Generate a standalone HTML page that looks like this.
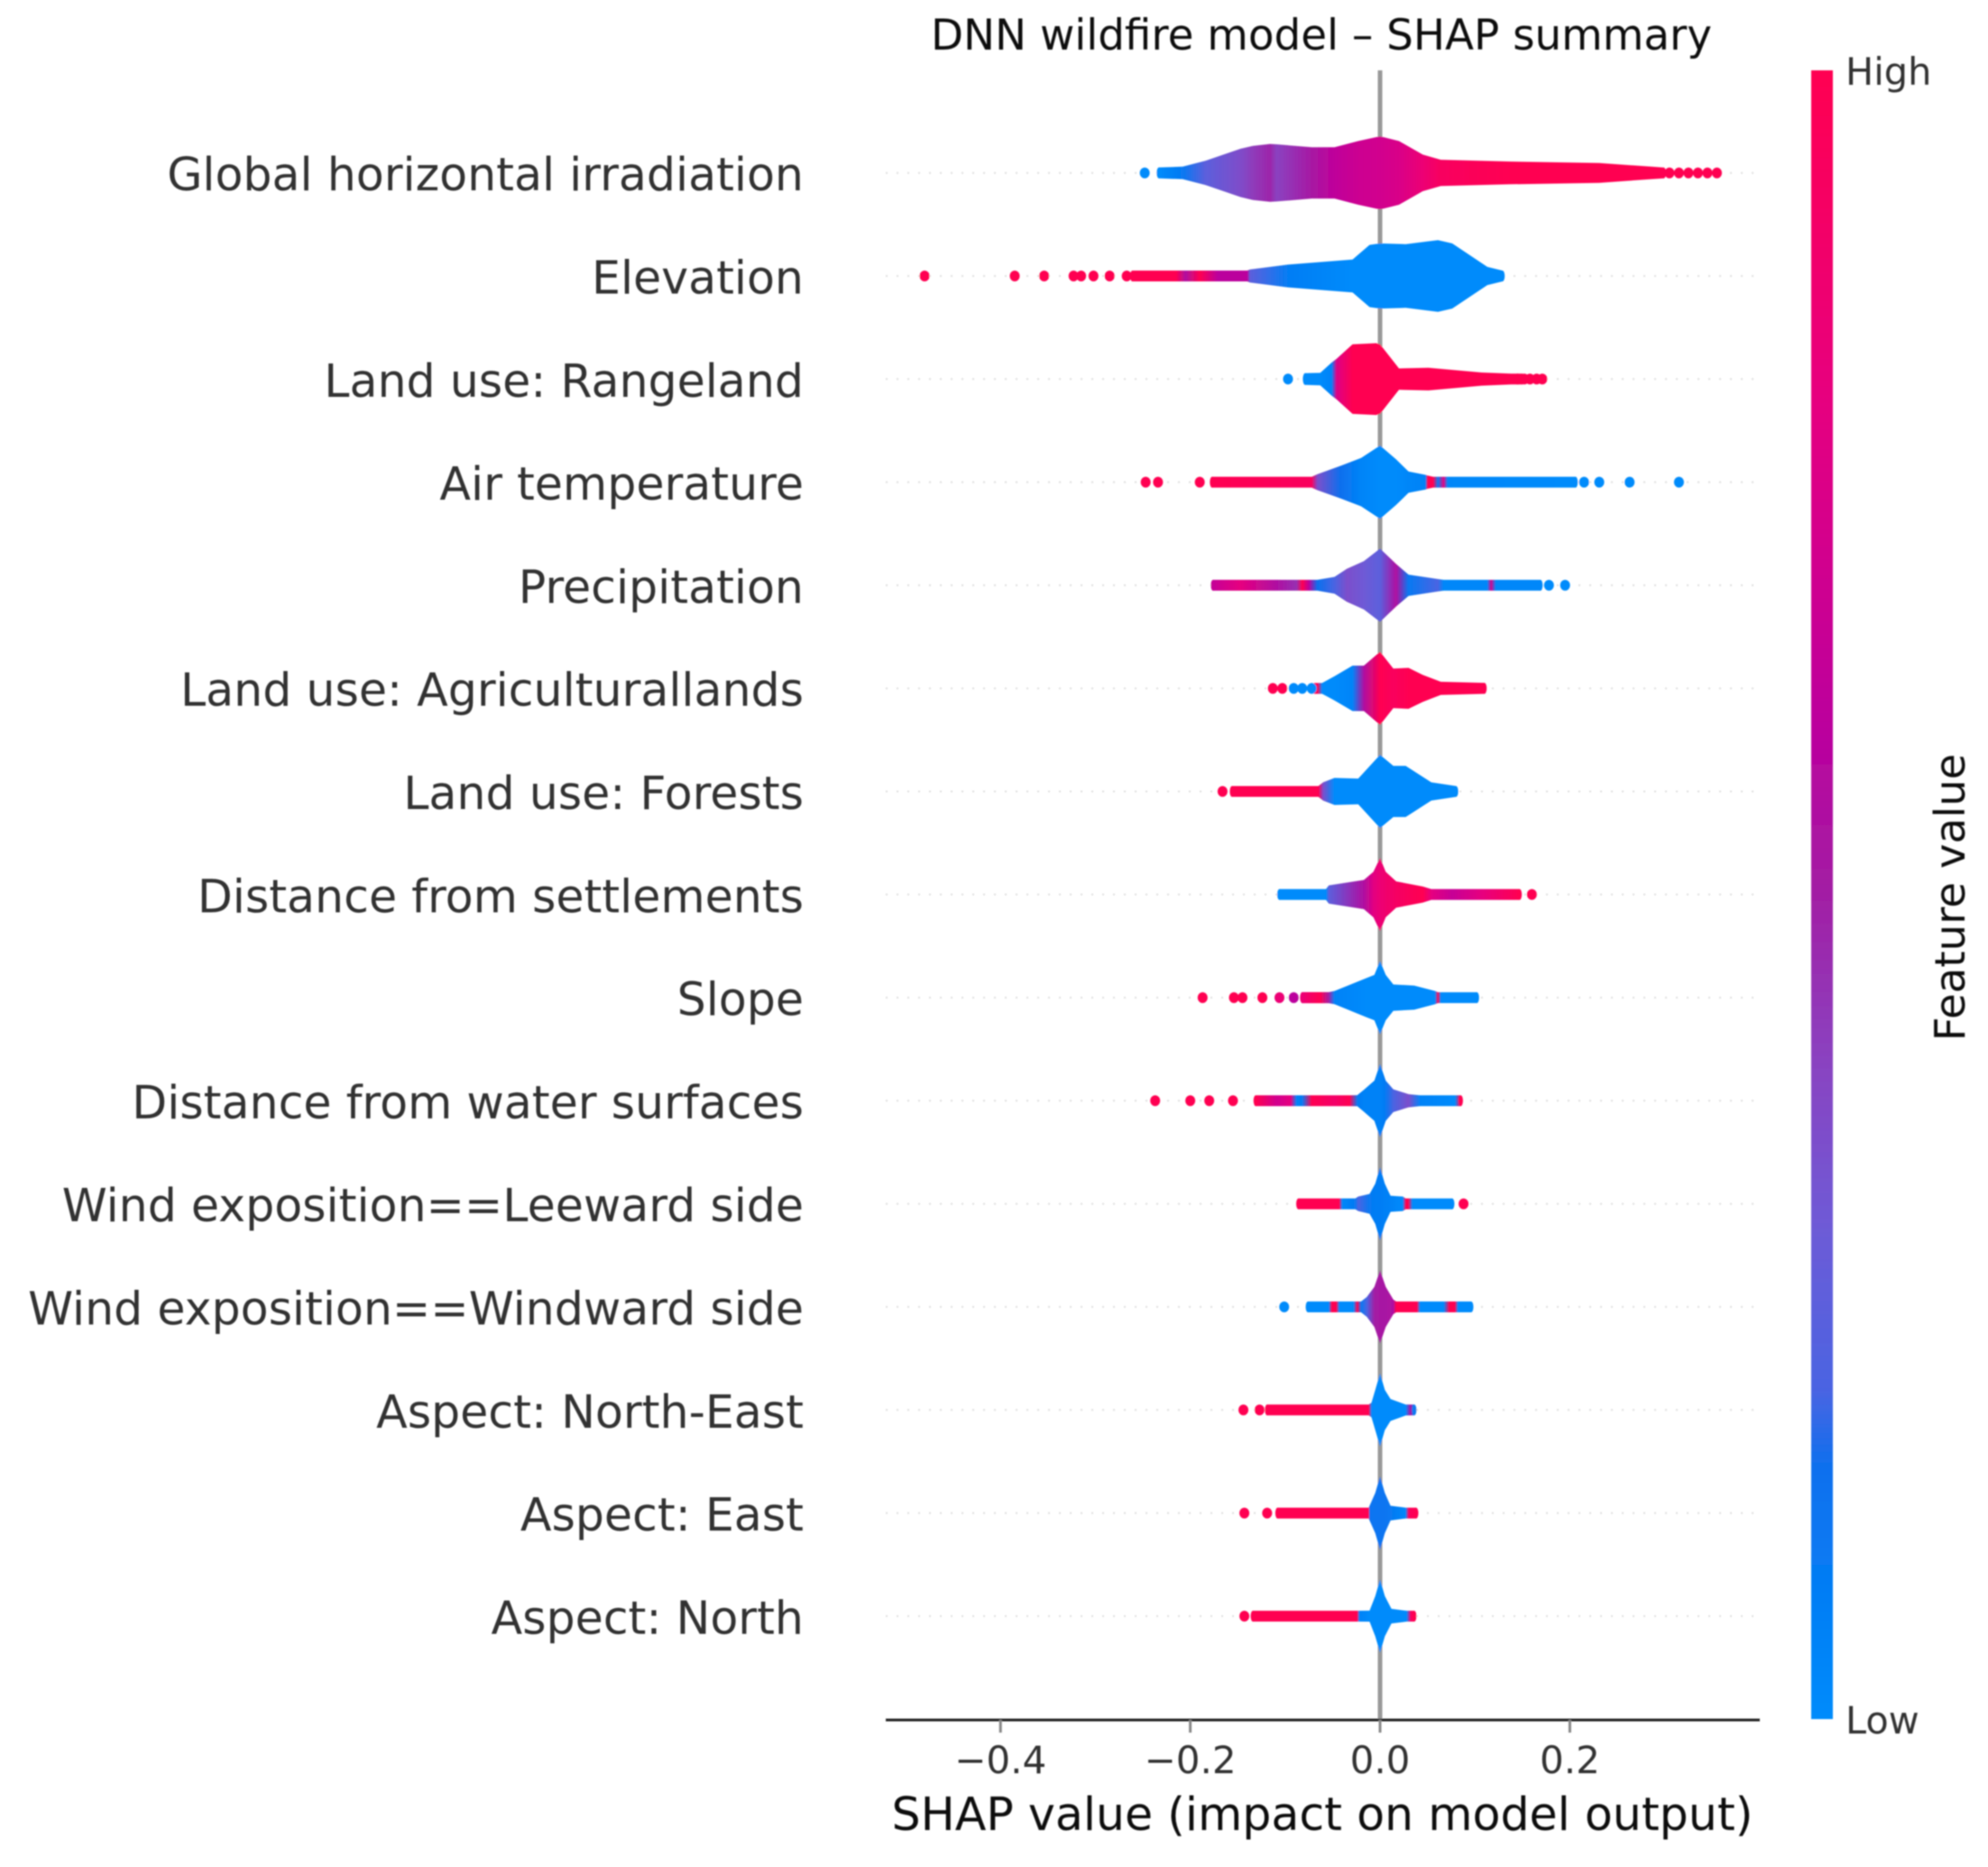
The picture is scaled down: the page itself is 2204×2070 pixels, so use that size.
<!DOCTYPE html>
<html lang="en">
<head>
<meta charset="utf-8">
<title>DNN wildfire model – SHAP summary</title>
<style>
  html, body { margin: 0; padding: 0; background: #ffffff; }
  #chart { display: block; width: 2204px; height: 2070px; font-family: "DejaVu Sans", "Liberation Sans", sans-serif; }
</style>
</head>
<body>
<svg id="chart" xmlns="http://www.w3.org/2000/svg" width="2204" height="2070" viewBox="0 0 2204 2070">
  <defs id="chart-defs">
    <filter id="soft" x="-5%" y="-5%" width="110%" height="110%"><feGaussianBlur stdDeviation="0.8"/></filter>
  </defs>
  <rect x="0" y="0" width="2204" height="2070" fill="#ffffff"/>
  <g id="plot" filter="url(#soft)">
    <g id="grid-layer"></g>
    <g id="zero-layer"></g>
    <g id="violin-layer"></g>
    <g id="axis-layer"></g>
    <g id="label-layer" font-size="50.6" fill="#333333" text-anchor="end"></g>
    <text x="1465" y="55" font-size="46.8" fill="#111111" text-anchor="middle">DNN wildfire model – SHAP summary</text>
    <text x="1466" y="2029" font-size="50.6" fill="#111111" text-anchor="middle">SHAP value (impact on model output)</text>
    <rect id="colorbar" x="2008" y="78" width="24" height="1828"/>
    <text x="2046" y="94" font-size="41.5" fill="#333333">High</text>
    <text x="2046" y="1922" font-size="41.5" fill="#333333">Low</text>
    <text transform="translate(2178 995) rotate(-90)" font-size="46.7" fill="#111111" text-anchor="middle">Feature value</text>
  </g>
</svg>
<script>
const featureNames = ["Global horizontal irradiation","Elevation","Land use: Rangeland","Air temperature","Precipitation","Land use: Agriculturallands","Land use: Forests","Distance from settlements","Slope","Distance from water surfaces","Wind exposition==Leeward side","Wind exposition==Windward side","Aspect: North-East","Aspect: East","Aspect: North"];
const xTickValues = [-0.4, -0.2, 0.0, 0.2];
const xTickLabels = ["\u22120.4", "\u22120.2", "0.0", "0.2"];

const violinShap = [
  [-.233,-.208,-.184,-.147,-.134,-.116,-.109,-.072,-.048,-.023,0,.020,.045,.064,.138,.231,.286,.299],
  [-.261,-.215,-.205,-.190,-.171,-.153,-.140,-.137,-.097,-.029,-.011,0,.027,.061,.076,.113,.129],
  [-.079,-.063,-.051,-.046,-.029,-.004,0,.020,.051,.107,.138,.150],
  [-.177,-.072,-.066,-.041,-.020,0,.017,.030,.048,.050,.056,.061,.067,.071,.206],
  [-.176,-.147,-.109,-.088,-.082,-.075,-.066,-.048,-.035,-.017,0,.017,.030,.061,.067,.113,.117,.122,.169],
  [-.069,-.066,-.061,-.048,-.029,-.017,0,.014,.030,.045,.064,.110],
  [-.156,-.065,-.060,-.048,-.023,0,.014,.027,.054,.080],
  [-.106,-.057,-.054,-.017,-.007,0,.006,.017,.045,.054,.076,.107,.147],
  [-.082,-.063,-.054,-.048,-.014,-.006,0,.006,.014,.036,.058,.061,.064,.102],
  [-.131,-.109,-.094,-.088,-.082,-.072,-.048,-.032,-.024,-.017,-.006,0,.006,.014,.030,.042,.079,.085],
  [-.086,-.043,-.040,-.026,-.023,-.011,-.005,0,.005,.011,.024,.027,.030,.034,.076],
  [-.076,-.054,-.051,-.046,-.043,-.028,-.024,-.020,-.014,-.006,0,.006,.014,.017,.039,.042,.067,.073,.079,.082,.096],
  [-.119,-.012,-.009,-.005,0,.005,.011,.027,.032,.036],
  [-.108,-.012,-.011,-.005,0,.005,.011,.027,.030,.038],
  [-.134,-.024,-.022,-.011,-.005,0,.005,.012,.028,.032,.036]
];
const violinDensity = [
  [.15,.17,.33,.66,.74,.79,.78,.70,.70,.87,1,.87,.5,.36,.31,.27,.17,.13],
  [.11,.11,.11,.11,.11,.11,.13,.18,.31,.45,.85,.89,.87,.98,.89,.25,.12],
  [.16,.17,.45,.55,.95,.98,.95,.29,.31,.18,.12,.12],
  [.12,.13,.22,.45,.66,1,.62,.29,.2,.18,.12,.11,.11,.11,.11],
  [.13,.12,.12,.12,.12,.12,.13,.23,.45,.66,1,.58,.29,.17,.13,.11,.11,.11,.11],
  [.12,.12,.12,.33,.62,.62,1,.54,.56,.37,.18,.15],
  [.14,.14,.25,.37,.35,1,.7,.7,.25,.10],
  [.13,.13,.25,.4,.62,1,.62,.36,.22,.13,.13,.13,.13],
  [.15,.15,.15,.18,.54,.62,1,.62,.36,.33,.18,.12,.12,.12],
  [.13,.13,.13,.13,.13,.13,.13,.13,.15,.3,.55,1,.55,.31,.18,.13,.13,.13],
  [.13,.13,.13,.14,.2,.27,.55,1,.55,.22,.2,.13,.13,.13,.13],
  [.13,.13,.13,.13,.13,.13,.13,.13,.27,.55,1,.55,.2,.13,.13,.13,.13,.13,.13,.13,.13],
  [.14,.14,.2,.55,1,.55,.3,.15,.13,.11],
  [.14,.14,.2,.55,1,.55,.2,.14,.14,.13],
  [.14,.14,.14,.15,.55,1,.55,.2,.14,.14,.13]
];
const violinFeatureValue = [
  [0,.1,.25,.36,.42,.48,.4,.52,.62,.68,.7,.74,.85,.94,1,1,1,1],
  [1,1,.55,1,.6,.6,.6,.25,.08,0,0,0,0,0,0,0,0],
  [0,0,.05,.75,1,1,1,1,1,1,1,1],
  [1,.95,.35,.15,.04,0,0,.03,.05,1,1,.1,.8,.03,0],
  [.65,.8,.55,.45,1,.6,.15,.2,.35,.3,.25,.55,.1,.2,.02,.02,.7,.02,.02],
  [1,1,0,0,.04,.55,1,.95,1,1,1,1],
  [1,1,.35,0,0,0,0,0,0,0],
  [0,0,.25,.55,.78,.85,.88,.92,1,.8,.65,.8,1],
  [.85,1,.5,.05,0,0,0,0,0,0,0,1,0,0],
  [1,.7,.8,.05,.1,1,.9,1,.1,.05,.05,.05,.1,.2,.35,.05,0,1],
  [1,1,.02,.1,.2,.1,.08,.08,.06,.05,0,1,1,0,0],
  [0,0,1,1,0,0,1,.1,.2,.5,.52,.52,.55,1,1,0,0,1,1,0,0],
  [1,1,0,0,0,0,0,0,.55,.1],
  [1,1,.12,.12,.12,.12,.1,.02,.95,1],
  [1,1,.05,0,0,0,0,0,0,.9,1]
];
const dotShap = [
  [-.248,.305,.315,.325,.335,.345,.355],
  [-.480,-.385,-.354,-.323,-.315,-.302,-.285,-.267],
  [-.097,.145,.152,.158,.165,.171],
  [-.247,-.234,-.190,.215,.231,.263,.315],
  [.178,.195],
  [-.113,-.103,-.091,-.082,-.072],
  [-.166],
  [.160],
  [-.187,-.154,-.145,-.124,-.106,-.091],
  [-.237,-.200,-.180,-.155],
  [.088],
  [-.101],
  [-.144,-.127],
  [-.143,-.119],
  [-.143]
];
const dotFeatureValue = [
  [0,1,1,1,1,1,1],
  [1,1,1,1,1,1,1,1],
  [0,1,1,1,1,1],
  [1,1,1,0,0,0,0],
  [0,0],
  [1,1,0,0,0],
  [1],
  [1],
  [1,1,1,1,.85,.6],
  [1,1,1,1],
  [1],
  [0],
  [1,1],
  [1,1],
  [1]
];
const colorStopValues = [0, .15, .2, .3, .4, .5, .6, .8, 1];
const colorStopHex = ["#008bfb","#0a70ee","#4a64e2","#6e5ad6","#8a42c0","#a21ea4","#bb009d","#e6007f","#ff0051"];

const SVG_NS = "http://www.w3.org/2000/svg";
const X_ZERO = 1530, X_PER_UNIT = 1052, ROW_TOP = 191.7, ROW_STEP = 114.3, PEAK_HALF = 40.6, MIN_HALF = 6, DOT_R = 5.5, CAP_RX = 2.5;
const AXIS_LEFT = 982, AXIS_RIGHT = 1951, AXIS_Y = 1907, PLOT_TOP = 78;

function xScale(v) { return X_ZERO + v * X_PER_UNIT; }
function yScale(i) { return ROW_TOP + ROW_STEP * i; }
function halfHeight(d) { return Math.max(d * PEAK_HALF, MIN_HALF); }
function hexToRgb(h) { return [1, 3, 5].map(function (p) { return parseInt(h.substr(p, 2), 16); }); }
function colorFor(v) {
  var k = 0;
  while (k < colorStopValues.length - 2 && v > colorStopValues[k + 1]) k++;
  var t = (v - colorStopValues[k]) / (colorStopValues[k + 1] - colorStopValues[k]);
  t = Math.max(0, Math.min(1, t));
  var a = hexToRgb(colorStopHex[k]), b = hexToRgb(colorStopHex[k + 1]);
  return "rgb(" + a.map(function (c, j) { return Math.round(c + (b[j] - c) * t); }).join(",") + ")";
}
function make(tag, attrs, parent) {
  var el = document.createElementNS(SVG_NS, tag);
  Object.keys(attrs).forEach(function (k) { el.setAttribute(k, attrs[k]); });
  parent.appendChild(el);
  return el;
}

var defs = document.getElementById("chart-defs");
var gridLayer = document.getElementById("grid-layer");
var zeroLayer = document.getElementById("zero-layer");
var violinLayer = document.getElementById("violin-layer");
var axisLayer = document.getElementById("axis-layer");
var labelLayer = document.getElementById("label-layer");

// colorbar gradient
var barGrad = make("linearGradient", { id: "bar-gradient", x1: "0", y1: "1", x2: "0", y2: "0" }, defs);
colorStopValues.forEach(function (v, i) {
  make("stop", { offset: v, "stop-color": colorStopHex[i] }, barGrad);
});
document.getElementById("colorbar").setAttribute("fill", "url(#bar-gradient)");

// zero line
var zeroLine = make("line", { x1: xScale(0), x2: xScale(0), y1: PLOT_TOP, y2: AXIS_Y, stroke: "#999999", "stroke-width": 5 }, zeroLayer);



featureNames.forEach(function (name, i) {
  var cy = yScale(i);

  var grid = make("line", { x1: AXIS_LEFT, x2: AXIS_RIGHT, y1: cy, y2: cy, stroke: "#dedede", "stroke-width": 2, "stroke-dasharray": "2 10" }, gridLayer);
  
  

  var label = make("text", { x: 891, y: cy + 19.5 }, labelLayer);
  label.textContent = name;
  
  

  var s = violinShap[i], d = violinDensity[i], f = violinFeatureValue[i];
  var x0 = xScale(s[0]), x1 = xScale(s[s.length - 1]);
  var grad = make("linearGradient", { id: "violin-grad-" + i, gradientUnits: "userSpaceOnUse", x1: x0, x2: x1, y1: 0, y2: 0 }, defs);
  s.forEach(function (v, k) {
    make("stop", { offset: (xScale(v) - x0) / (x1 - x0), "stop-color": colorFor(f[k]) }, grad);
  });

  var top = s.map(function (v, k) { return xScale(v).toFixed(1) + "," + (cy - halfHeight(d[k])).toFixed(1); });
  var bottom = s.map(function (v, k) { return xScale(v).toFixed(1) + "," + (cy + halfHeight(d[k])).toFixed(1); }).reverse();
  var violin = make("polygon", { points: top.concat(bottom).join(" "), fill: "url(#violin-grad-" + i + ")" }, violinLayer);
  
  

  [0, s.length - 1].forEach(function (k) {
    var cap = make("ellipse", { cx: xScale(s[k]), cy: cy, rx: CAP_RX, ry: halfHeight(d[k]), fill: colorFor(f[k]) }, violinLayer);
    
    
  });

  dotShap[i].forEach(function (v, k) {
    var dot = make("ellipse", { cx: xScale(v), cy: cy, rx: DOT_R, ry: DOT_R + 0.5, fill: colorFor(dotFeatureValue[i][k]) }, violinLayer);
    
    
  });
});

// x axis
var spine = make("line", { x1: AXIS_LEFT, x2: AXIS_RIGHT, y1: AXIS_Y, y2: AXIS_Y, stroke: "#222222", "stroke-width": 3 }, axisLayer);



xTickValues.forEach(function (v, i) {
  var tick = make("line", { x1: xScale(v), x2: xScale(v), y1: AXIS_Y, y2: AXIS_Y + 14, stroke: "#888888", "stroke-width": 3 }, axisLayer);
  
  
  var text = make("text", { x: xScale(v), y: 1966, "font-size": 42, fill: "#333333", "text-anchor": "middle" }, axisLayer);
  text.textContent = xTickLabels[i];
  
  
});
</script>
</body>
</html>
